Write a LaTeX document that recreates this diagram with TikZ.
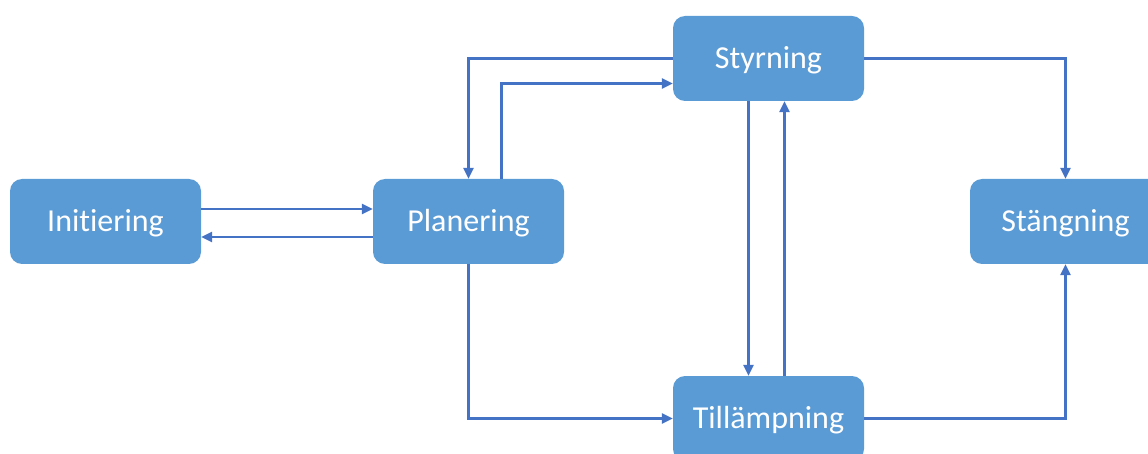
\documentclass[tikz,border=0pt]{standalone}
\usepackage{fontspec}
\setmainfont{Carlito}[Ligatures={NoCommon,NoRare}]
\usetikzlibrary{arrows.meta}
\definecolor{boxblue}{HTML}{5B9BD5}
\definecolor{linkblue}{HTML}{4472C4}
\begin{document}
\begin{tikzpicture}[x=1pt,y=-1pt,
  stage/.style={draw=none,fill=boxblue,rounded corners=12pt,minimum width=191pt,minimum height=85pt,
    text=white,font=\fontsize{32}{38}\selectfont,inner sep=0pt,text height=20pt,text depth=0pt},
  link/.style={draw=linkblue,line width=2.4pt,-{Triangle[length=11pt,width=10pt]}}]
\useasboundingbox (0,0) rectangle (1148,454);
\clip (0,0) rectangle (1148,454);
\node[stage] (init) at (105.5,221.5) {Initiering};
\node[stage] (plan) at (468.5,221.5) {Planering};
\node[stage] (styr) at (768.5,58.5) {Styrning};
\node[stage] (stang) at (1065.5,221.5) {Stängning};
\node[stage] (till) at (768.5,418.5) {Tillämpning};
\draw[link] ([yshift=12.5pt]init.east) -- ([yshift=12.5pt]plan.west);
\draw[link] ([yshift=-15.5pt]plan.west) -- ([yshift=-15.5pt]init.east);
\draw[link] (styr.west) -| (plan.north);
\draw[link] ([xshift=33pt]plan.north) |- ([yshift=-25pt]styr.west);
\draw[link] ([xshift=-20pt]styr.south) -- ([xshift=-20pt]till.north);
\draw[link] ([xshift=16pt]till.north) -- ([xshift=16pt]styr.south);
\draw[link] (styr.east) -| (stang.north);
\draw[link] (till.east) -| (stang.south);
\draw[link] (plan.south) |- (till.west);
\end{tikzpicture}
\end{document}
